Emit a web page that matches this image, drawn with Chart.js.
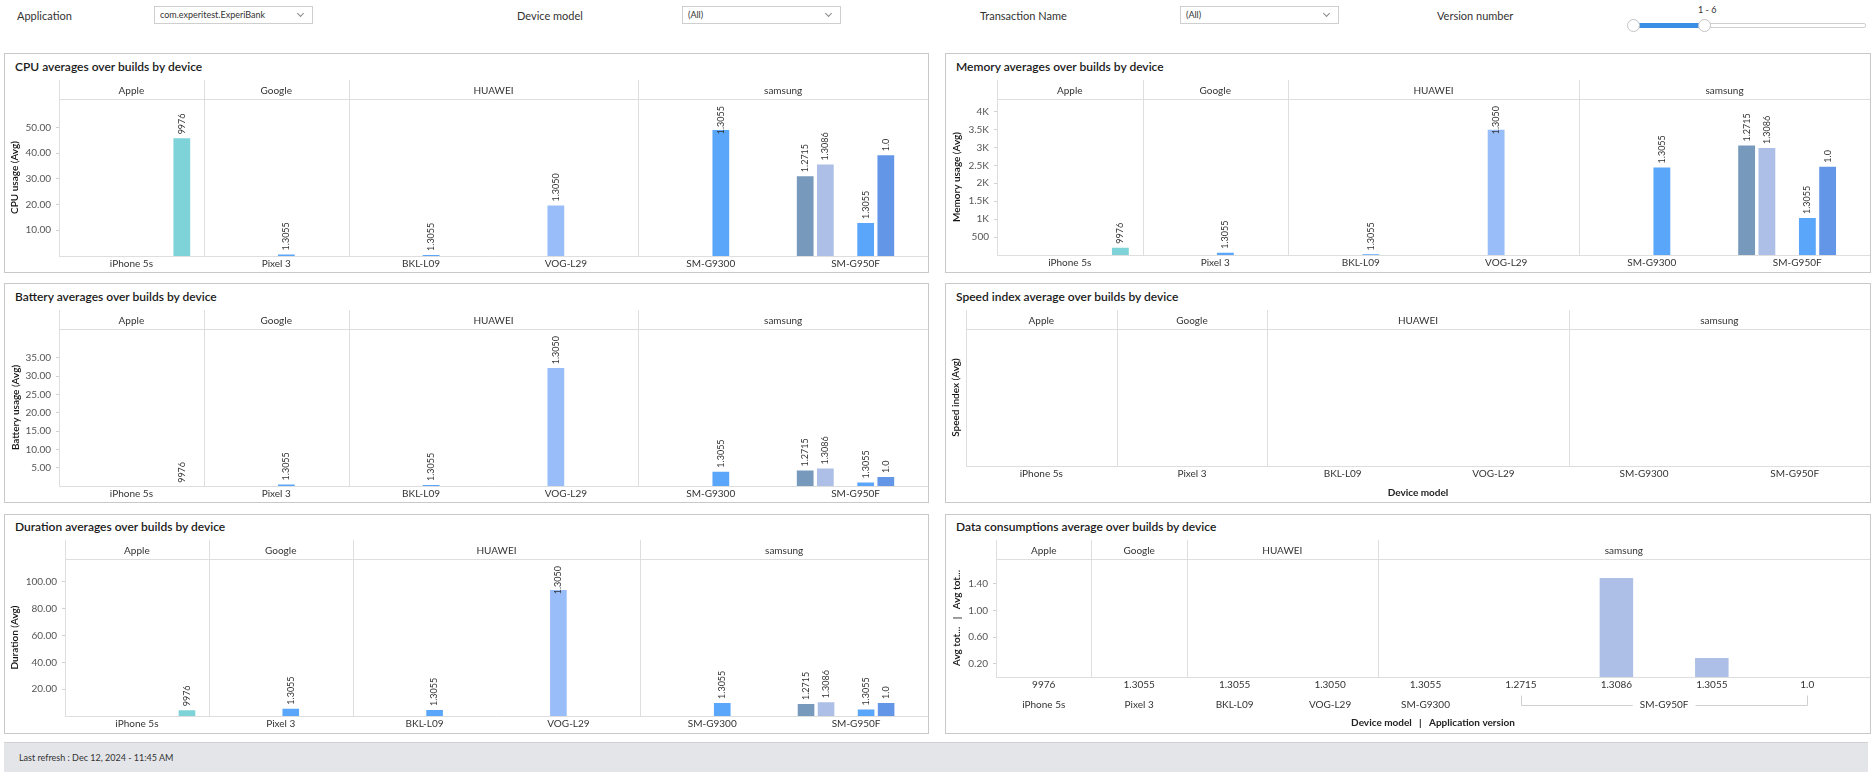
<!DOCTYPE html>
<html>
<head>
<meta charset="utf-8">
<script src="https://cdn.jsdelivr.net/npm/chart.js@4.4.1/dist/chart.umd.min.js"></script>
<style>
  body { margin: 0; width: 1874px; height: 772px; background: #fff; font-family: Lato, sans-serif; color: #333; position: relative; overflow: hidden; }
  .panel { position: absolute; border: 1px solid #c9c9c9; box-sizing: border-box; background: #fff; }
  .ptitle { position: absolute; font-size: 12px; line-height: 14px; color: #1a1a1a; font-weight: 600; white-space: nowrap; }
  .flabel { position: absolute; font-size: 11px; line-height: 13px; color: #333; white-space: nowrap; }
  .sel { position: absolute; top: 6px; width: 159px; height: 18px; border: 1px solid #cfcfcf; box-sizing: border-box; font-size: 9px; line-height: 16px; padding-left: 5px; color: #333; }
  .sel:after { content: ''; position: absolute; right: 9px; top: 4px; width: 4px; height: 4px; border-right: 1px solid #888; border-bottom: 1px solid #888; transform: rotate(45deg); }
  canvas { position: absolute; }
  #track { position: absolute; left: 1633px; top: 23px; width: 233px; height: 5px; border: 1px solid #cfcfcf; box-sizing: border-box; border-radius: 2px; background: #fff; }
  #fill { position: absolute; left: 1633px; top: 23px; width: 71px; height: 5px; background: #3a8ee6; }
  .knob { position: absolute; top: 19px; width: 13px; height: 13px; border: 1px solid #c4c4c4; box-sizing: border-box; border-radius: 50%; background: #fff; }
  #footer { position: absolute; left: 4px; top: 742px; width: 1864px; height: 30px; background: #e4e5e8; border-top: 1px solid #cfd0d3; box-sizing: border-box; }
  #footer span { position: absolute; left: 15px; top: 9px; font-size: 9px; line-height: 12px; color: #333; }
</style>
</head>
<body>

<div class="flabel" style="left:17px;top:9px">Application</div>
<div class="sel" style="left:154px">com.experitest.ExperiBank</div>
<div class="flabel" style="left:517px;top:9px">Device model</div>
<div class="sel" style="left:682px">(All)</div>
<div class="flabel" style="left:980px;top:9px">Transaction Name</div>
<div class="sel" style="left:1180px">(All)</div>
<div class="flabel" style="left:1437px;top:9px">Version number</div>
<div class="flabel" style="left:1698px;top:3px;font-size:9px">1 - 6</div>
<div id="track"></div>
<div id="fill"></div>
<div class="knob" style="left:1627px"></div>
<div class="knob" style="left:1698px"></div>

<div class="panel" style="left:4px;top:53px;width:925px;height:220px"></div>
<div class="panel" style="left:945px;top:53px;width:926px;height:220px"></div>
<div class="panel" style="left:4px;top:283px;width:925px;height:220px"></div>
<div class="panel" style="left:945px;top:283px;width:926px;height:220px"></div>
<div class="panel" style="left:4px;top:514px;width:925px;height:220px"></div>
<div class="panel" style="left:945px;top:514px;width:926px;height:220px"></div>

<div class="ptitle" style="left:15px;top:60px">CPU averages over builds by device</div>
<div class="ptitle" style="left:956px;top:60px">Memory averages over builds by device</div>
<div class="ptitle" style="left:15px;top:290px">Battery averages over builds by device</div>
<div class="ptitle" style="left:956px;top:290px">Speed index average over builds by device</div>
<div class="ptitle" style="left:15px;top:520px">Duration averages over builds by device</div>
<div class="ptitle" style="left:956px;top:520px">Data consumptions average over builds by device</div>

<canvas id="cCpu" width="923" height="192" style="left:5px;top:80px"></canvas>
<canvas id="cMem" width="924" height="192" style="left:946px;top:80px"></canvas>
<canvas id="cBat" width="923" height="192" style="left:5px;top:310px"></canvas>
<canvas id="cSpd" width="924" height="192" style="left:946px;top:310px"></canvas>
<canvas id="cDur" width="923" height="193" style="left:5px;top:540px"></canvas>
<canvas id="cDat" width="924" height="193" style="left:946px;top:540px"></canvas>

<div id="footer"><span>Last refresh : Dec 12, 2024 - 11:45 AM</span></div>

<script>
// device models on the x axis, grouped by brand
const devices = ['iPhone 5s', 'Pixel 3', 'BKL-L09', 'VOG-L29', 'SM-G9300', 'SM-G950F'];
const brands = ['Apple', 'Google', 'HUAWEI', 'samsung'];
const brandSpans = [1, 1, 2, 2];

// application versions (one bar slot each, in the order they sit in a group)
const versions = ['1.2715', '1.3086', '1.3050', '1.3055', '1.0', '9976'];
const versionColors = ['#7799bb', '#adbfe6', '#98bdf8', '#5aa6fa', '#6496e8', '#7ed3d8'];

// rows = devices, columns = versions
const cpuAvg = [
    [null, null, null, null, null, 46.1],
    [null, null, null, 1.0, null, null],
    [null, null, null, 0.8, null, null],
    [null, null, 20.0, null, null, null],
    [null, null, null, 49.3, null, null],
    [31.4, 35.9, null, 13.2, 39.5, null]
];
const memAvg = [
    [null, null, null, null, null, 230],
    [null, null, null, 90, null, null],
    [null, null, null, 40, null, null],
    [null, null, 3520, null, null, null],
    [null, null, null, 2470, null, null],
    [3080, 3010, null, 1060, 2490, null]
];
const batAvg = [
    [null, null, null, null, null, 0.05],
    [null, null, null, 0.7, null, null],
    [null, null, null, 0.55, null, null],
    [null, null, 32.5, null, null, null],
    [null, null, null, 4.2, null, null],
    [4.5, 5.05, null, 1.2, 2.7, null]
];
const durAvg = [
    [null, null, null, null, null, 5.0],
    [null, null, null, 6.2, null, null],
    [null, null, null, 5.2, null, null],
    [null, null, 94.7, null, null, null],
    [null, null, null, 10.5, null, null],
    [9.7, 11.0, null, 5.5, 10.5, null]
];
const speedAvg = [null, null, null, null, null, null];

// y axis ticks
const cpuTicks = [10, 20, 30, 40, 50];
const memTicks = [500, 1000, 1500, 2000, 2500, 3000, 3500, 4000];
const batTicks = [5, 10, 15, 20, 25, 30, 35];
const durTicks = [20, 40, 60, 80, 100];
const datTicks = [0.2, 0.6, 1.0, 1.4];

// data consumption: one category per device/version pair
const datVersions = ['9976', '1.3055', '1.3055', '1.3050', '1.3055', '1.2715', '1.3086', '1.3055', '1.0'];
const datDevices = ['iPhone 5s', 'Pixel 3', 'BKL-L09', 'VOG-L29', 'SM-G9300', 'SM-G950F', 'SM-G950F', 'SM-G950F', 'SM-G950F'];
const datBrandSpans = [1, 1, 2, 5];
const datAvg = [null, null, null, null, null, null, 1.50, 0.30, null];

const FONT = 'Lato, sans-serif';
const HEADER_H = 19;

// header row with brands, pane separators, axis lines, y title and extra x rows
const facets = {
    id: 'facets',
    beforeDatasetsDraw(chart, args, o) {
        const { ctx, chartArea: a, scales: { x } } = chart;
        const n = chart.data.labels.length;
        const cw = (x.right - x.left) / n;
        const top = a.top - HEADER_H;
        const right = chart.width;
        const edges = [a.left];
        let acc = 0;
        o.spans.forEach(s => { acc += s; edges.push(a.left + acc * cw); });
        edges[edges.length - 1] = right;

        ctx.save();
        ctx.lineWidth = 1;
        ctx.strokeStyle = '#dedede';
        ctx.beginPath();
        edges.slice(0, -1).forEach(e => {
            const px = Math.round(e) + 0.5;
            ctx.moveTo(px, top);
            ctx.lineTo(px, a.bottom);
        });
        ctx.moveTo(a.left, Math.round(a.top) + 0.5);
        ctx.lineTo(right, Math.round(a.top) + 0.5);
        ctx.moveTo(a.left, Math.round(a.bottom) + 0.5);
        ctx.lineTo(right, Math.round(a.bottom) + 0.5);
        ctx.stroke();

        ctx.fillStyle = '#333';
        ctx.font = '10px ' + FONT;
        ctx.textAlign = 'center';
        ctx.textBaseline = 'middle';
        o.brands.forEach((b, k) => ctx.fillText(b, (edges[k] + edges[k + 1]) / 2, top + HEADER_H / 2 + 1));

        // rotated y title
        ctx.save();
        ctx.translate(o.yTitleX, (a.top + a.bottom) / 2);
        ctx.rotate(-Math.PI / 2);
        ctx.fillStyle = '#111';
        ctx.font = '600 10px ' + FONT;
        ctx.fillText(o.yTitle, 0, 0);
        ctx.restore();

        // second label row (device under version) with a bracket over multi-version devices
        if (o.devRow) {
            const yRow = a.bottom + 28;
            let i = 0;
            while (i < o.devRow.length) {
                let j = i;
                while (j + 1 < o.devRow.length && o.devRow[j + 1] === o.devRow[i]) j++;
                const x0 = x.getPixelForValue(i), x1 = x.getPixelForValue(j);
                const cx = (x0 + x1) / 2;
                ctx.fillStyle = '#333';
                ctx.fillText(o.devRow[i], cx, yRow);
                if (j > i) {
                    const tw = ctx.measureText(o.devRow[i]).width / 2 + 7;
                    const yl = Math.round(yRow) + 0.5;
                    ctx.strokeStyle = '#d0d0d0';
                    ctx.beginPath();
                    ctx.moveTo(Math.round(x0) + 0.5, yl - 10);
                    ctx.lineTo(Math.round(x0) + 0.5, yl);
                    ctx.lineTo(cx - tw, yl);
                    ctx.moveTo(cx + tw, yl);
                    ctx.lineTo(Math.round(x1) + 0.5, yl);
                    ctx.lineTo(Math.round(x1) + 0.5, yl - 10);
                    ctx.stroke();
                }
                i = j + 1;
            }
        }
        if (o.xTitle) {
            ctx.font = 'bold 10px ' + FONT;
            ctx.fillStyle = '#222';
            ctx.fillText(o.xTitle, (a.left + right) / 2, a.bottom + o.xTitleDy);
        }
        ctx.restore();
    }
};

// rotated version label above every bar
const barLabels = {
    id: 'barLabels',
    afterDatasetsDraw(chart, args, o) {
        if (!o.show) return;
        const { ctx, chartArea: a } = chart;
        ctx.save();
        ctx.font = '9px ' + FONT;
        ctx.fillStyle = '#333';
        ctx.textAlign = 'left';
        ctx.textBaseline = 'middle';
        chart.data.datasets.forEach((ds, di) => {
            chart.getDatasetMeta(di).data.forEach((bar, i) => {
                if (ds.data[i] == null) return;
                const len = ctx.measureText(ds.label).width;
                let yb = bar.y - 3;
                if (yb - len < a.top + 7) yb = a.top + 7 + len;
                ctx.save();
                ctx.translate(bar.x, yb);
                ctx.rotate(-Math.PI / 2);
                ctx.fillText(ds.label, 0, 0);
                ctx.restore();
            });
        });
        ctx.restore();
    }
};

function makeOptions(o) {
    return {
        responsive: false,
        animation: false,
        events: [],
        layout: { padding: { top: HEADER_H, left: 0, right: o.padRight || 0, bottom: 0 } },
        plugins: {
            legend: { display: false },
            tooltip: { enabled: false },
            facets: {
                brands: brands, spans: o.spans || brandSpans, yTitle: o.yTitle, yTitleX: o.yTitleX || 10,
                devRow: o.devRow, xTitle: o.xTitle, xTitleDy: o.xTitleDy
            },
            barLabels: { show: o.labels !== false }
        },
        scales: {
            x: {
                offset: true,
                grid: { display: false, drawTicks: false },
                border: { display: false },
                ticks: { font: { family: FONT, size: 10 }, color: '#333', padding: o.xPad || 2, maxRotation: 0, autoSkip: false },
                afterFit: s => { s.height = o.xH; }
            },
            y: {
                min: 0,
                max: o.yMax,
                grid: { display: !!o.yTicks, drawOnChartArea: false, drawTicks: true, tickLength: 3, color: '#d2d2d2' },
                border: { display: false },
                ticks: { display: !!o.yTicks, font: { family: FONT, size: 10 }, color: '#555', padding: 5, callback: o.fmt },
                afterBuildTicks: s => { s.ticks = (o.yTicks || []).map(v => ({ value: v })); },
                afterFit: s => { s.width = o.yW; }
            }
        }
    };
}

function groupedChart(id, rows, o) {
    return new Chart(document.getElementById(id), {
        type: 'bar',
        data: {
            labels: devices,
            datasets: versions.map((v, k) => ({
                label: v,
                data: rows.map(r => r[k]),
                backgroundColor: versionColors[k],
                borderColor: 'rgba(255,255,255,0.55)',
                borderWidth: 1,
                categoryPercentage: 0.835,
                barPercentage: 0.93
            }))
        },
        options: makeOptions(o),
        plugins: [facets, barLabels]
    });
}

const fix2 = v => v.toFixed(2);
const kilo = v => v >= 1000 ? (v / 1000) + 'K' : String(v);

document.addEventListener('DOMContentLoaded', () => {
    groupedChart('cCpu', cpuAvg, { yMax: 61, yTicks: cpuTicks, fmt: fix2, yW: 54, xH: 16, yTitle: 'CPU usage (Avg)', yTitleX: 10 });
    groupedChart('cMem', memAvg, { yMax: 4350, yTicks: memTicks, fmt: kilo, yW: 51, xH: 17, yTitle: 'Memory usage (Avg)', yTitleX: 11 });
    groupedChart('cBat', batAvg, { yMax: 42.9, yTicks: batTicks, fmt: fix2, yW: 54, xH: 16, yTitle: 'Battery usage (Avg)', yTitleX: 11 });
    groupedChart('cDur', durAvg, { yMax: 117, yTicks: durTicks, fmt: fix2, yW: 60, xH: 17, yTitle: 'Duration (Avg)', yTitleX: 10 });

    new Chart(document.getElementById('cSpd'), {
        type: 'bar',
        data: { labels: devices, datasets: [{ label: '', data: speedAvg }] },
        options: makeOptions({ yMax: 1, yW: 20, xH: 36, yTitle: 'Speed index (Avg)', yTitleX: 10, labels: false, xTitle: 'Device model', xTitleDy: 27 }),
        plugins: [facets]
    });

    new Chart(document.getElementById('cDat'), {
        type: 'bar',
        data: {
            labels: datVersions,
            datasets: [{
                label: 'Avg total data',
                data: datAvg,
                backgroundColor: '#adbfe6',
                borderColor: 'rgba(255,255,255,0.55)',
                borderWidth: 1,
                categoryPercentage: 0.4,
                barPercentage: 0.93
            }]
        },
        options: makeOptions({
            yMax: 1.77, yTicks: datTicks, fmt: fix2, yW: 50, xH: 56, spans: datBrandSpans, padRight: 15,
            yTitle: 'Avg tot...   |   Avg tot...', yTitleX: 11, labels: false,
            devRow: datDevices, xTitle: 'Device model   |   Application version', xTitleDy: 46
        }),
        plugins: [facets]
    });
});
</script>
</body>
</html>
